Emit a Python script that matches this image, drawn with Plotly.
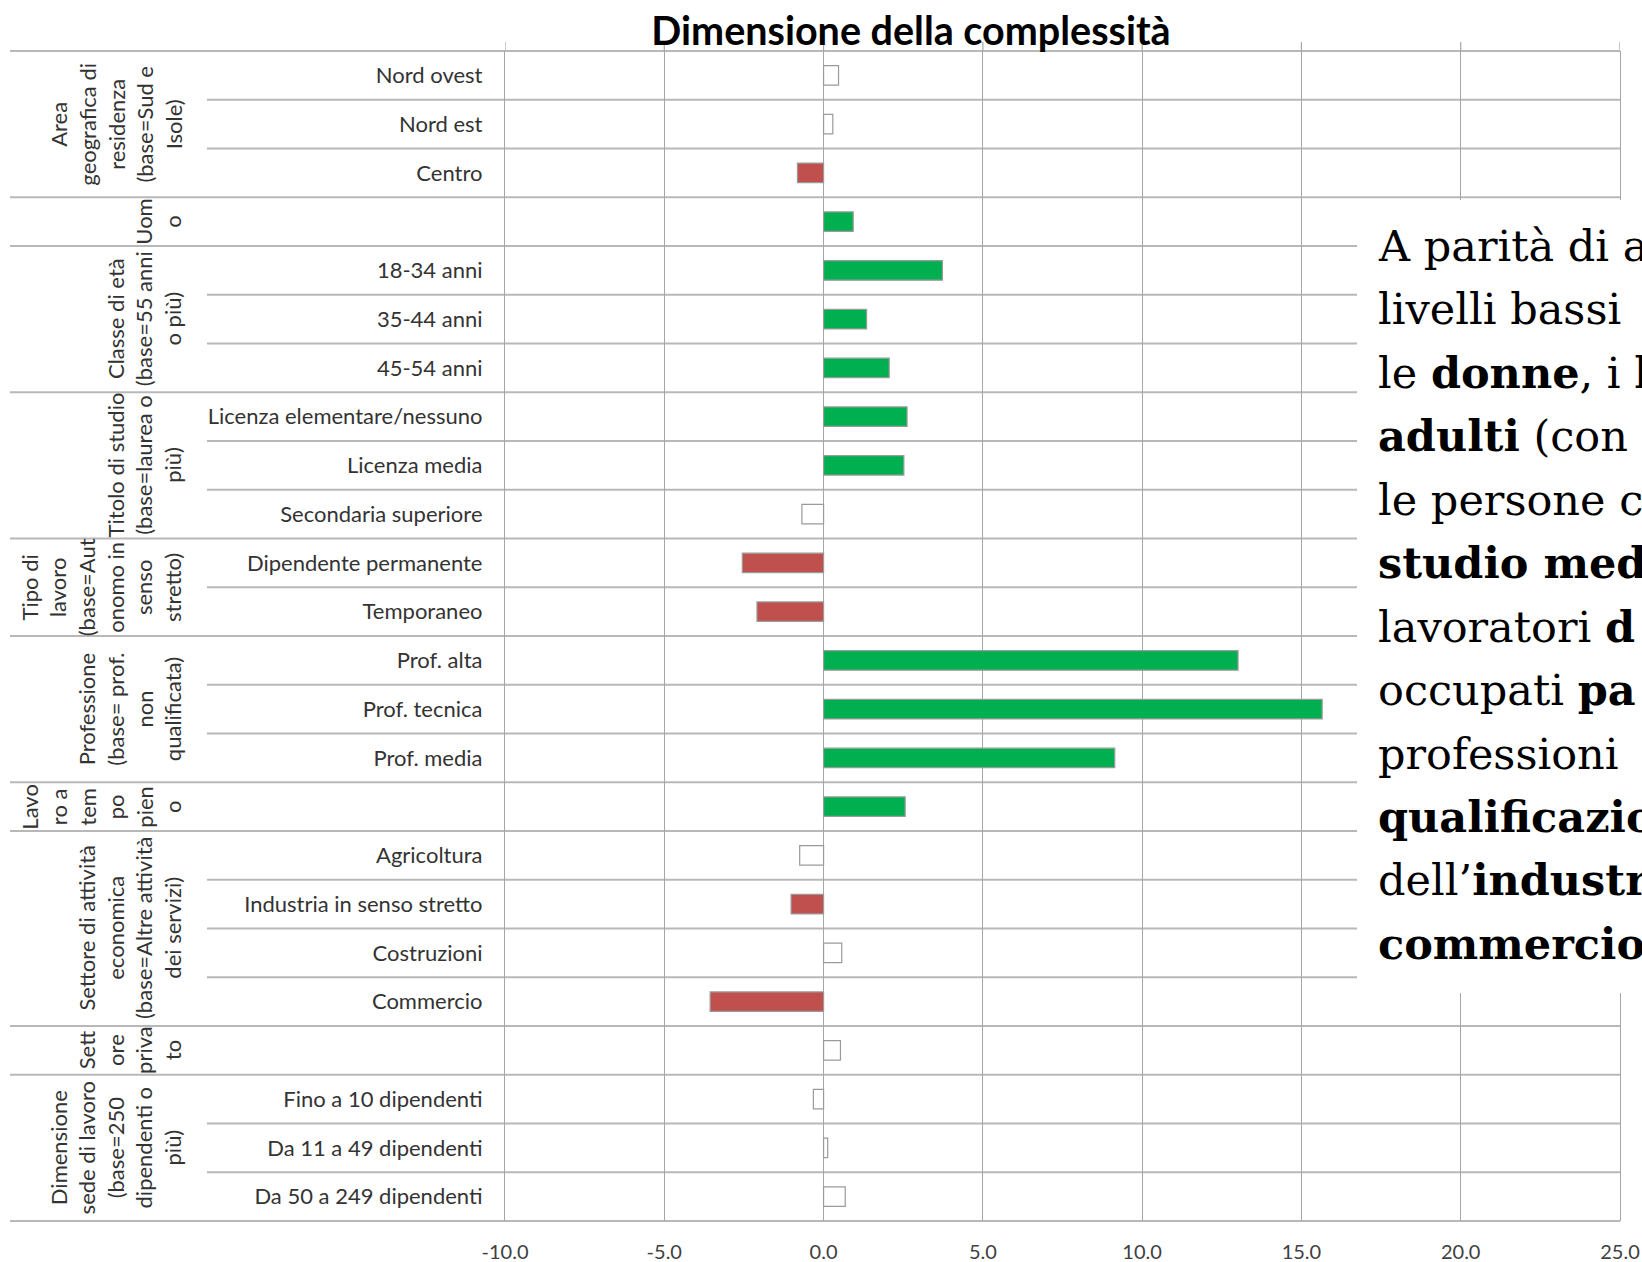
import plotly.graph_objects as go

# ---- data -------------------------------------------------------------
group_labels = [
    "Area<br>geografica di<br>residenza<br>(base=Sud e<br>Isole)",
    "Uom<br>o",
    "Classe di età<br>(base=55 anni<br>o più)",
    "Titolo di studio<br>(base=laurea o<br>più)",
    "Tipo di<br>lavoro<br>(base=Aut<br>onomo in<br>senso<br>stretto)",
    "Professione<br>(base= prof.<br>non<br>qualificata)",
    "Lavo<br>ro a<br>tem<br>po<br>pien<br>o",
    "Settore di attività<br>economica<br>(base=Altre attività<br>dei servizi)",
    "Sett<br>ore<br>priva<br>to",
    "Dimensione<br>sede di lavoro<br>(base=250<br>dipendenti o<br>più)",
]
group_sizes = [3, 1, 3, 3, 2, 3, 1, 4, 1, 3]

item_labels = [
    "Nord ovest", "Nord est", "Centro",
    "",
    "18-34 anni", "35-44 anni", "45-54 anni",
    "Licenza elementare/nessuno", "Licenza media", "Secondaria superiore",
    "Dipendente permanente", "Temporaneo",
    "Prof. alta", "Prof. tecnica", "Prof. media",
    "",
    "Agricoltura", "Industria in senso stretto", "Costruzioni", "Commercio",
    "",
    "Fino a 10 dipendenti", "Da 11 a 49 dipendenti", "Da 50 a 249 dipendenti",
]

values = [
    0.47, 0.29, -0.82,
    0.93,
    3.73, 1.35, 2.06,
    2.62, 2.52, -0.68,
    -2.55, -2.09,
    13.01, 15.65, 9.14,
    2.56,
    -0.75, -1.02, 0.57, -3.56,
    0.53,
    -0.32, 0.13, 0.68,
]

significant = [
    False, False, True,
    True,
    True, True, True,
    True, True, False,
    True, True,
    True, True, True,
    True,
    False, True, False, True,
    False,
    False, False, False,
]

x_ticks = [-10, -5, 0, 5, 10, 15, 20, 25]

note_lines = [
    "A parità di a",
    "livelli bassi",
    "le <b>donne</b>, i <b>l</b>",
    "<b>adulti</b> (con",
    "le persone c",
    "<b>studio med</b>",
    "lavoratori <b>d</b>",
    "occupati <b>pa</b>",
    "professioni",
    "<b>qualificazio</b>",
    "dell’<b>industr</b>",
    "<b>commercio</b>",
]

# ---- page geometry ----------------------------------------------------
W, H = 1642, 1262
L, R, T, B = 505, 1620, 51, 1221
PW, PH = R - L, B - T
n = len(item_labels)


def px_x(px):
    return (px - L) / PW


def px_y(py):
    return (B - py) / PH


POS, NEG = "#00B050", "#C0504D"
colors = [
    (POS if v > 0 else NEG) if s else "#FFFFFF"
    for v, s in zip(values, significant)
]
rows = list(range(n))

fig = go.Figure()
fig.add_trace(
    go.Bar(
        x=values,
        y=rows,
        orientation="h",
        width=0.4,
        marker=dict(color=colors, line=dict(color="#9a9a9a", width=1.2)),
        hoverinfo="skip",
        showlegend=False,
    )
)

shapes = []
annotations = []

# row separators: full width at group boundaries, shorter inside a group
group_bounds = [0]
for size in group_sizes:
    group_bounds.append(group_bounds[-1] + size)
for k in range(n + 1):
    x0 = px_x(10) if k in group_bounds else px_x(207)
    shapes.append(
        dict(
            type="line", xref="paper", yref="paper",
            x0=x0, x1=1, y0=1 - k / n, y1=1 - k / n,
            line=dict(color="#b8b8b8", width=2), layer="below",
        )
    )

# small stubs of the vertical grid above the top border
for v in x_ticks:
    shapes.append(
        dict(
            type="line", xref="x", yref="paper",
            x0=v, x1=v, y0=1, y1=1 + 9 / PH,
            line=dict(color="#a6a6a6", width=1.2), layer="below",
        )
    )

# white panel holding the commentary on the right
shapes.append(
    dict(
        type="rect", xref="paper", yref="paper",
        x0=px_x(1357), x1=px_x(W + 40), y0=px_y(993), y1=px_y(200),
        fillcolor="white", line=dict(width=0), layer="above",
    )
)

# rotated group captions
for label, start, size in zip(group_labels, group_bounds[:-1], group_sizes):
    annotations.append(
        dict(
            text=label, xref="paper", yref="paper",
            x=px_x(188), xanchor="right",
            y=1 - (start + size / 2) / n, yanchor="middle",
            textangle=-90, showarrow=False, align="center",
            font=dict(family="Lato", size=22, color="#333333"),
        )
    )

# commentary text
for i, line in enumerate(note_lines):
    annotations.append(
        dict(
            text=line, xref="paper", yref="paper",
            x=px_x(1376), xanchor="left",
            y=px_y(246 + 63.45 * i), yanchor="middle",
            showarrow=False, align="left",
            font=dict(family="DejaVu Serif", size=43, color="#000000"),
        )
    )

fig.update_layout(
    width=W,
    height=H,
    autosize=False,
    margin=dict(l=L, r=W - R, t=T, b=H - B, pad=0, autoexpand=False),
    paper_bgcolor="white",
    plot_bgcolor="white",
    bargap=0.6,
    title=dict(
        text="<b>Dimensione della complessità</b>",
        x=911 / W, xref="container", xanchor="center",
        y=1 - 31 / H, yref="container", yanchor="middle",
        font=dict(family="Lato", size=39.5, color="#000000"),
    ),
    xaxis=dict(
        range=[x_ticks[0], x_ticks[-1]],
        tickvals=x_ticks,
        ticktext=[f"{v:.1f}" for v in x_ticks],
        showgrid=True, gridcolor="#a6a6a6", gridwidth=1.2,
        zeroline=False, showline=False, ticks="",
        ticklabelstandoff=17,
        tickfont=dict(family="Lato", size=20, color="#404040"),
        automargin=False,
        fixedrange=True,
    ),
    yaxis=dict(
        range=[n - 0.5, -0.5],
        tickvals=rows,
        ticktext=item_labels,
        showgrid=False, zeroline=False,
        showline=True, mirror=True, linecolor="#a6a6a6", linewidth=1.2,
        ticks="", ticklabelstandoff=17,
        tickfont=dict(family="Lato", size=22, color="#333333"),
        automargin=False,
        fixedrange=True,
    ),
    shapes=shapes,
    annotations=annotations,
)

fig.write_html("out.html")
